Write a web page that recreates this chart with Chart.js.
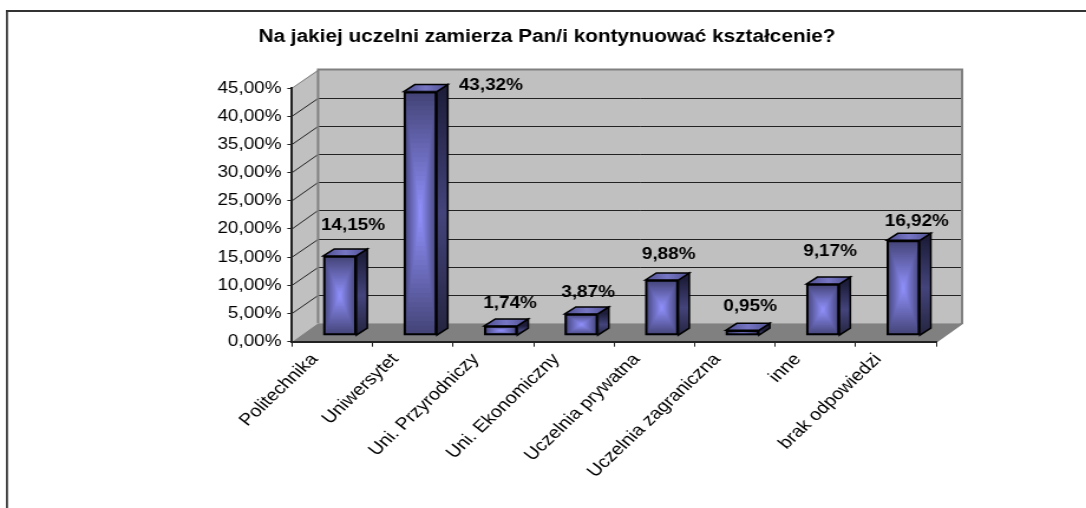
<!DOCTYPE html>
<html>
<head>
<meta charset="utf-8">
<title>Na jakiej uczelni</title>
<script src="https://cdn.jsdelivr.net/npm/chart.js@4/dist/chart.umd.js"></script>
<style>
  html, body { margin: 0; padding: 0; background: #fff; overflow: hidden; }
</style>
</head>
<body>
<!-- the original picture is stretched sideways, so the canvas is too -->
<canvas id="wykres" width="920" height="508" style="position:absolute;left:0;top:0;width:1086px;height:508px"></canvas>
<script>
const chartTitle = 'Na jakiej uczelni zamierza Pan/i kontynuować kształcenie?';
const categories = ['Politechnika', 'Uniwersytet', 'Uni. Przyrodniczy', 'Uni. Ekonomiczny',
  'Uczelnia prywatna', 'Uczelnia zagraniczna', 'inne', 'brak odpowiedzi'];
const values = [14.15, 43.32, 1.74, 3.87, 9.88, 0.95, 9.17, 16.92];

const stretch = 1086 / 920;
const sx = px => px / stretch; // reference x distance to canvas x distance

// depth of the fake 3D box
const wallDx = sx(26), wallDy = -18.5;
const barDx = sx(7.5), barDy = -6;
const sideDx = sx(11), sideDy = -7;

// where each value label sits, from category centre and bar top
const labelShift = [[20.75, -36], [78, -11.5], [16.75, -28], [14.25, -27],
  [14.35, -31.3], [15.25, -29.3], [14.75, -38], [21, -24.3]];

const percent = v => v.toFixed(2).replace('.', ',') + '%';

function mix(a, b, t) {
  return 'rgb(' + a.map((c, i) => Math.round(c + (b[i] - c) * t)).join(',') + ')';
}

function polygon(ctx, pts, fill, stroke, lw) {
  ctx.beginPath();
  pts.forEach((p, i) => i ? ctx.lineTo(p[0], p[1]) : ctx.moveTo(p[0], p[1]));
  ctx.closePath();
  if (fill) { ctx.fillStyle = fill; ctx.fill(); }
  if (stroke) { ctx.strokeStyle = stroke; ctx.lineWidth = lw; ctx.lineJoin = 'miter'; ctx.stroke(); }
}

// frame, walls, floor and the grid going round the corner
const walls = {
  id: 'walls',
  beforeDraw(chart) {
    const { ctx, scales: { x, y } } = chart;
    const left = x.left, right = x.right, top = y.getPixelForValue(45), bottom = y.getPixelForValue(0);

    ctx.save();
    // only the top and left of the outer frame are in the crop
    ctx.fillStyle = '#333';
    ctx.fillRect(sx(6), 10, chart.width, 2);
    ctx.fillRect(sx(6), 10, sx(2), chart.height);

    polygon(ctx, [[left, top], [left + wallDx, top + wallDy], [left + wallDx, bottom + wallDy], [left, bottom]], '#c0c0c0');
    polygon(ctx, [[left + wallDx, top + wallDy], [right + wallDx, top + wallDy], [right + wallDx, bottom + wallDy], [left + wallDx, bottom + wallDy]], '#c0c0c0');
    polygon(ctx, [[left, bottom], [left + wallDx, bottom + wallDy], [right + wallDx, bottom + wallDy], [right, bottom]], '#808080');

    y.ticks.forEach(t => {
      const py = y.getPixelForValue(t.value);
      if (t.value === 0) return;
      const by = Math.round(py + wallDy) + 0.5;
      ctx.strokeStyle = t.value === 45 ? '#808080' : '#222';
      ctx.lineWidth = 1;
      ctx.beginPath();
      ctx.moveTo(left, py);
      ctx.lineTo(left + wallDx, by);
      if (t.value !== 45) ctx.lineTo(right + wallDx, by);
      ctx.stroke();
    });

    ctx.strokeStyle = '#808080';
    ctx.lineWidth = 2;
    ctx.beginPath();
    ctx.moveTo(left + wallDx, bottom + wallDy);
    ctx.lineTo(left + wallDx, top + wallDy);
    ctx.lineTo(right + wallDx, top + wallDy);
    ctx.lineTo(right + wallDx, bottom + wallDy);
    ctx.lineTo(right, bottom);
    ctx.stroke();
    ctx.restore();
  }
};

// painted under the library's bars, which only add the black outline
const boxes = {
  id: 'boxes',
  beforeDatasetsDraw(chart) {
    const ctx = chart.ctx;
    ctx.save();
    ctx.translate(barDx, barDy);
    chart.getDatasetMeta(0).data.forEach(bar => {
      const l = bar.x - bar.width / 2, r = bar.x + bar.width / 2, t = bar.y, b = bar.base;

      const side = ctx.createLinearGradient(0, t, 0, b);
      side.addColorStop(0, '#1e1e3c');
      side.addColorStop(0.5, '#44447c');
      side.addColorStop(1, '#24243f');
      polygon(ctx, [[r, t], [r + sideDx, t + sideDy], [r + sideDx, b + sideDy], [r, b]], side, '#000', 1.5);

      const cap = ctx.createLinearGradient(l, 0, r + sideDx, 0);
      cap.addColorStop(0, '#4f4f8f');
      cap.addColorStop(0.5, '#7676c6');
      cap.addColorStop(1, '#4f4f8f');
      polygon(ctx, [[l, t], [l + sideDx, t + sideDy], [r + sideDx, t + sideDy], [r, t]], cap, '#000', 1.5);

      // rectangular gradient, dark edge to bright middle
      const steps = 26;
      for (let i = 0; i < steps; i++) {
        const f = i / steps;
        ctx.fillStyle = mix([68, 68, 120], [146, 146, 255], f);
        ctx.fillRect(l + f * (r - l) / 2, t + f * (b - t) / 2, (r - l) * (1 - f), (b - t) * (1 - f));
      }
    });
  },
  afterDatasetsDraw(chart) {
    chart.ctx.restore();
  }
};

const valueLabels = {
  id: 'valueLabels',
  afterDraw(chart) {
    const { ctx, scales: { x, y } } = chart;
    ctx.save();
    ctx.font = 'bold 16px "Liberation Sans", Arial, sans-serif';
    ctx.fillStyle = '#000';
    ctx.textAlign = 'center';
    ctx.textBaseline = 'middle';
    values.forEach((v, i) => {
      ctx.fillText(percent(v), x.getPixelForValue(i) + sx(labelShift[i][0]), y.getPixelForValue(v) + labelShift[i][1]);
    });
    ctx.restore();
  }
};

new Chart(document.getElementById('wykres'), {
  type: 'bar',
  data: {
    labels: categories,
    datasets: [{
      data: values,
      backgroundColor: 'transparent',
      borderColor: '#000',
      borderWidth: 1.5,
      borderSkipped: false,
      barThickness: sx(33)
    }]
  },
  options: {
    responsive: false,
    animation: false,
    layout: { padding: { left: 133.8, right: 127, top: 0, bottom: 0 } },
    plugins: {
      legend: { display: false },
      tooltip: { enabled: false },
      title: {
        display: true,
        text: chartTitle,
        color: '#000',
        font: { family: '"Liberation Sans", Arial, sans-serif', size: 17.6, weight: 'bold' },
        padding: { top: 27, bottom: 40 }
      }
    },
    scales: {
      x: {
        afterFit: s => { s.height = 166.3; },
        border: { color: '#222', width: 2 },
        grid: { drawOnChartArea: false, color: '#222', tickLength: 5 },
        ticks: {
          color: '#000',
          minRotation: 48,
          maxRotation: 48,
          autoSkip: false,
          labelOffset: -15,
          font: { family: '"Liberation Sans", Arial, sans-serif', size: 16.8 }
        }
      },
      y: {
        min: 0,
        max: 45,
        afterFit: s => { s.width = 113.6; },
        border: { color: '#222', width: 2 },
        grid: { drawOnChartArea: false, color: '#222', tickLength: 4 },
        ticks: {
          stepSize: 5,
          color: '#000',
          padding: 5,
          callback: v => percent(v),
          font: { family: '"Liberation Sans", Arial, sans-serif', size: 16 }
        }
      }
    }
  },
  plugins: [walls, boxes, valueLabels]
});
</script>
</body>
</html>
